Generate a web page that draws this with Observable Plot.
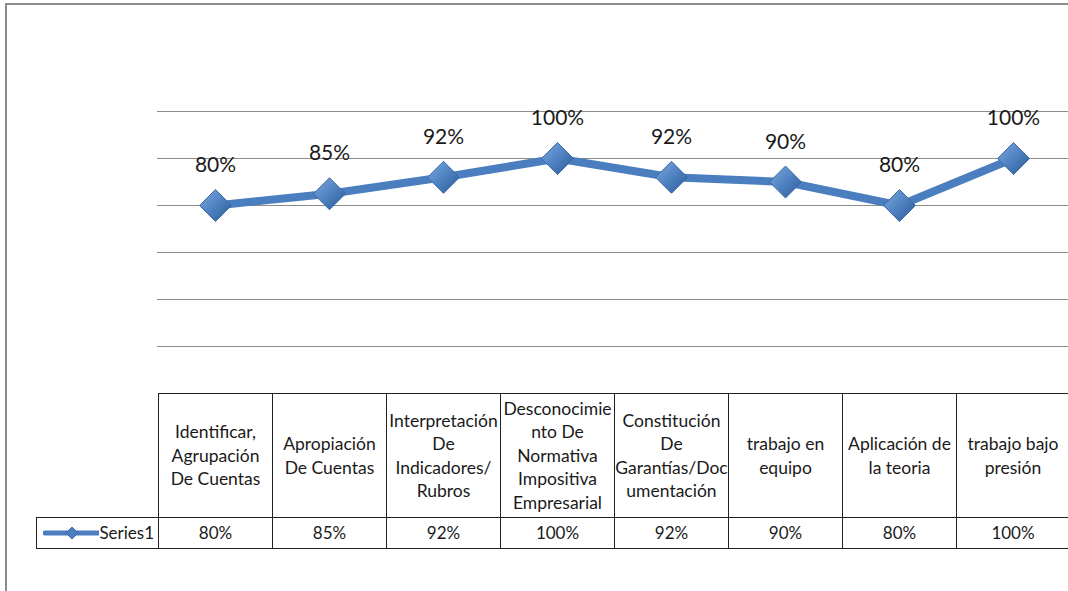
<!DOCTYPE html>
<html><head><meta charset="utf-8">
<script src="https://cdn.jsdelivr.net/npm/d3@7"></script>
<script src="https://cdn.jsdelivr.net/npm/@observablehq/plot@0.6"></script>
<style>
html,body{margin:0;padding:0;background:#fff;overflow:hidden;width:1068px;height:591px;position:relative;}
#frame{position:absolute;left:5px;top:3px;width:1200px;height:700px;border-left:2px solid #8c8c8c;border-top:2px solid #8c8c8c;}
#chart{position:absolute;left:0;top:0;}
.cell{position:absolute;box-sizing:border-box;border-left:1px solid #222;border-top:1px solid #222;display:flex;align-items:center;justify-content:center;text-align:center;white-space:pre-line;font-family:Lato,"Noto Sans",sans-serif;font-size:17.5px;line-height:23.5px;color:#1a1a1a;}
.val{font-size:17px;}
</style></head>
<body>
<div id="frame"></div>
<div id="chart"></div>
<script>
const categories = [
  "Identificar,\nAgrupación\nDe Cuentas",
  "Apropiación\nDe Cuentas",
  "Interpretación\nDe\nIndicadores/\nRubros",
  "Desconocimie\nnto De\nNormativa\nImpositiva\nEmpresarial",
  "Constitución\nDe\nGarantías/Doc\numentación",
  "trabajo en\nequipo",
  "Aplicación de\nla teoria",
  "trabajo bajo\npresión"
];
const values = [80, 85, 92, 100, 92, 90, 80, 100];
const seriesName = "Series1";
const gridTicks = [20, 40, 60, 80, 100, 120];

const data = categories.map((c, i) => ({cat: c, value: values[i]}));
const fmt = v => v + "%";

const W = 1068, H = 400;
const plot = Plot.plot({
  width: W, height: H,
  marginLeft: 157, marginRight: 0, marginTop: 111, marginBottom: 7,
  x: {type: "band", domain: categories, range: [157, 157 + 8 * 114.3], padding: 0, axis: null},
  y: {domain: [0, 120], axis: null},
  marks: [
    Plot.ruleY(gridTicks, {stroke: "#8c8c8c", strokeWidth: 1, strokeOpacity: 1}),
    Plot.line(data, {x: "cat", y: "value", stroke: "#4a7ebf", strokeWidth: 8, strokeLinejoin: "round", style: "filter: drop-shadow(1px 2px 1.5px rgba(0,0,0,0.3))"}),
    Plot.dot(data, {x: "cat", y: "value", symbol: "diamond2", r: 14.4, fill: "url(#dgrad)", stroke: "#3b6aa5", strokeWidth: 1, style: "filter: drop-shadow(1px 2px 1.5px rgba(0,0,0,0.3))"}),
    Plot.text(data, {x: "cat", y: "value", text: d => fmt(d.value), dy: -40, fontSize: 21, fill: "#1a1a1a", fontFamily: "Lato, 'Noto Sans', sans-serif"})
  ]
});
const defs = d3.select(plot).insert("defs", ":first-child");
const g = defs.append("linearGradient").attr("id", "dgrad").attr("x1", 0).attr("y1", 0).attr("x2", 1).attr("y2", 1);
g.append("stop").attr("offset", "0%").attr("stop-color", "#7fa9de");
g.append("stop").attr("offset", "50%").attr("stop-color", "#4f82c2");
g.append("stop").attr("offset", "100%").attr("stop-color", "#2a5a94");
document.getElementById("chart").appendChild(plot);

// data table below the plot, aligned to the x scale
const xs = plot.scale("x");
const bw = xs.bandwidth;
const top0 = 393, hdrH = 124, rowH = 32;
const body = document.body;
categories.forEach((c, i) => {
  const x0 = xs.apply(c);
  const last = i === categories.length - 1;
  const h = document.createElement("div");
  h.className = "cell";
  Object.assign(h.style, {left: x0 + "px", top: top0 + "px", width: bw + "px", height: hdrH + "px"});
  if (last) h.style.borderRight = "1px solid #222";
  h.textContent = c;
  body.appendChild(h);
  const v = document.createElement("div");
  v.className = "cell val";
  Object.assign(v.style, {left: x0 + "px", top: (top0 + hdrH) + "px", width: bw + "px", height: rowH + "px", borderBottom: "1px solid #222"});
  if (last) v.style.borderRight = "1px solid #222";
  v.textContent = fmt(values[i]);
  body.appendChild(v);
});
const lg = document.createElement("div");
lg.className = "cell val";
const lx = 36;
Object.assign(lg.style, {left: lx + "px", top: (top0 + hdrH) + "px", width: (xs.apply(categories[0]) - lx) + "px", height: rowH + "px", borderBottom: "1px solid #222", justifyContent: "flex-end", paddingRight: "4px"});
lg.innerHTML = '<svg width="56" height="14" style="margin-right:0px"><line x1="2" y1="7" x2="56" y2="7" stroke="#4a7ebf" stroke-width="5" stroke-linecap="round"/><path d="M29 1 L35 7 L29 13 L23 7 Z" fill="#4a7ebf" stroke="#3b6aa5"/></svg><span>' + seriesName + '</span>';
body.appendChild(lg);
</script>
</body></html>
